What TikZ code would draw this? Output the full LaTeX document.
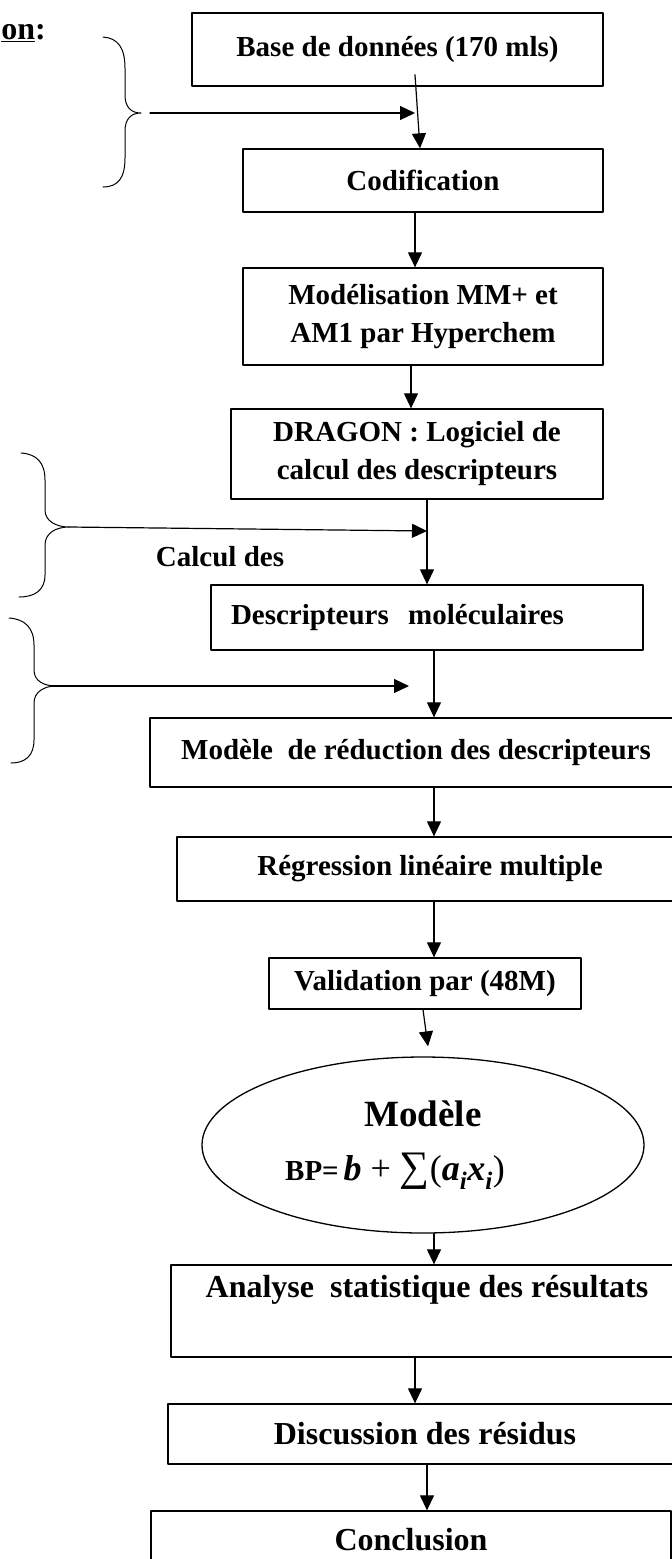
\documentclass[tikz,border=0pt]{standalone}
\usepackage{fontspec}
\setmainfont{Liberation Serif}
\usetikzlibrary{arrows.meta,shapes.geometric}

\begin{document}
\begin{tikzpicture}[x=1pt,y=-1pt,>={Triangle[length=15pt,width=14pt]},line cap=round,line join=round,
  box/.style={draw,line width=1.3pt,inner sep=0pt,align=center,font=\fontsize{29}{38}\selectfont\bfseries},
  bigbox/.style={box,font=\fontsize{32}{38}\selectfont\bfseries},
  arr/.style={->,line width=1.2pt},
  brace/.style={line width=1pt}]
\useasboundingbox (0,0) rectangle (672,1559);
\node[font=\fontsize{32}{38}\selectfont\bfseries,anchor=base east,inner sep=0pt] (titre) at (46,39) {\underline{on}:};
% boites
\node[box,minimum width=411pt,minimum height=73pt] (base) at (397.5,49.5) {Base de données (170 mls)};
\node[box,minimum width=360pt,minimum height=63pt] (codif) at (423,180.5) {Codification};
\node[box,minimum width=360pt,minimum height=97pt] (mod) at (423,316.5) {Modélisation MM+ et\\AM1 par Hyperchem};
\node[box,minimum width=372pt,minimum height=90pt] (dragon) at (417,454) {DRAGON : Logiciel de\\calcul des descripteurs};
\node[box,text width=392pt,inner xsep=20pt,align=left,minimum height=65pt] (desc) at (427,617.5) {Descripteurs\ \ moléculaires};
\node[box,minimum width=532pt,minimum height=69pt] (reduc) at (416,752.5) {Modèle\ \ de réduction des descripteurs};
\node[box,minimum width=506pt,minimum height=64pt] (regr) at (430,869) {Régression linéaire multiple};
\node[box,minimum width=312pt,minimum height=51pt] (valid) at (425,983.5) {Validation par (48M)};
\node[draw,ellipse,line width=1.3pt,inner sep=0pt,minimum width=442pt,minimum height=176pt,align=center,font=\fontsize{29}{38}\selectfont\bfseries] (modele) at (423,1145)
  {{\fontsize{37}{44}\selectfont Modèle}\\[16pt]BP=\,{\fontsize{36}{40}\selectfont\textit{b} \mdseries+ {\fontsize{42}{42}\selectfont ∑}(\bfseries\itshape a\textsubscript{i}x\textsubscript{i}\upshape\mdseries)}\hspace*{56pt}};
\node[bigbox,minimum width=512pt,minimum height=92pt] (analyse) at (427,1311) {Analyse\ \ statistique des résultats\\ \strut};
\node[bigbox,minimum width=514pt,minimum height=60pt] (disc) at (425,1434) {Discussion des résidus};
\node[bigbox,minimum width=520pt,minimum height=58pt] (concl) at (411,1540) {Conclusion};
\node[font=\fontsize{29}{38}\selectfont\bfseries,inner sep=0pt] (calcul) at (220,557) {Calcul des};
% accolades
\draw[brace] (103,37) .. controls (118,38) and (125,48) .. (125,68) -- (125,95) .. controls (125,107) and (131,113) .. (141,113) .. controls (131,113) and (125,119) .. (125,131) -- (125,158) .. controls (125,178) and (118,187) .. (103,187);
\draw[brace] (21,453) .. controls (37,454) and (45,463) .. (45,480) -- (45,510) .. controls (45,521) and (56,527) .. (69,527) .. controls (56,527) and (45,533) .. (45,545) -- (45,575) .. controls (45,590) and (35,597) .. (19,597);
\draw[brace] (9,618) .. controls (25,619) and (34,628) .. (34,645) -- (34,670) .. controls (34,681) and (44,686) .. (56,686) .. controls (44,686) and (34,692) .. (34,703) -- (34,740) .. controls (34,756) and (25,763) .. (11,763);
\coordinate (b1) at (150,113); \coordinate (e1) at (415,113);
\coordinate (b2) at (69,527); \coordinate (e2) at (427,531);
\coordinate (b3) at (51,686); \coordinate (e3) at (409,686);
\draw[arr] (b1) -- (e1);
\draw[arr] (b2) -- (e2);
\draw[arr] (b3) -- (e3);
% fleches
\draw[arr] ([xshift=17.5pt,yshift=12pt]base.south) -- ([xshift=-3pt]codif.north);
\draw[arr] ([xshift=-8pt]codif.south) -- ([xshift=-8pt]mod.north);
\draw[arr] ([xshift=-12pt]mod.south) -- ([xshift=-6pt]dragon.north);
\draw[arr] ([xshift=10pt]dragon.south) -- (desc.north);
\draw[arr] ([xshift=7pt]desc.south) -- ([xshift=18pt]reduc.north);
\draw[arr] ([xshift=18pt]reduc.south) -- ([xshift=4pt]regr.north);
\draw[arr] ([xshift=4pt]regr.south) -- ([xshift=9pt]valid.north);
\draw[arr] ([xshift=-2pt]valid.south) -- ([xshift=5pt,yshift=10pt]modele.north);
\draw[arr] ([xshift=11pt]modele.south) -- ([xshift=7pt]analyse.north);
\draw[arr] ([xshift=-12pt]analyse.south) -- ([xshift=-10pt]disc.north);
\draw[arr] ([xshift=2pt]disc.south) -- ([xshift=16pt]concl.north);
\end{tikzpicture}
\end{document}
